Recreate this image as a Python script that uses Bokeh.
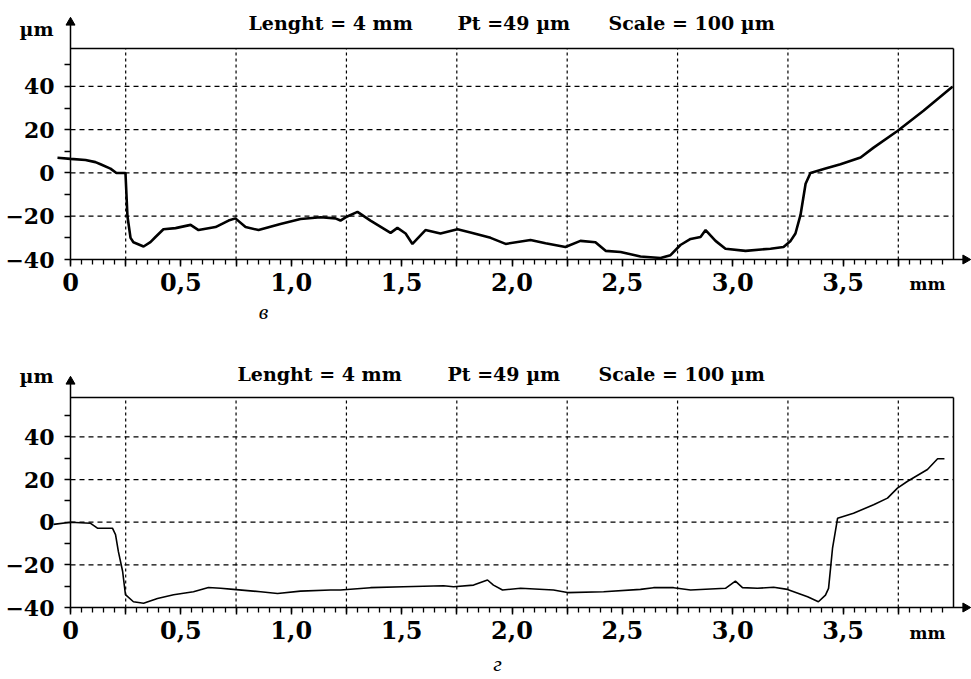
import math
from bokeh.plotting import figure
from bokeh.layouts import column
from bokeh.models import FixedTicker, Range1d, LinearAxis
from bokeh.core.properties import value
from bokeh.embed import file_html
from bokeh.resources import INLINE

# ---- data ----
top_x = [-0.059, 0.000, 0.068, 0.113, 0.136, 0.181, 0.208, 0.249, 0.258, 0.272, 0.285, 0.331, 0.362,
         0.385, 0.421, 0.476, 0.544, 0.580, 0.657, 0.716, 0.747, 0.793, 0.852, 0.951, 1.042,
         1.133, 1.200, 1.223, 1.246, 1.300, 1.359, 1.450, 1.481, 1.518, 1.549, 1.608, 1.676,
         1.753, 1.812, 1.903, 1.971, 2.084, 2.152, 2.242, 2.310, 2.378, 2.424, 2.492, 2.582,
         2.673, 2.718, 2.763, 2.809, 2.854, 2.877, 2.922, 2.967, 3.058, 3.171, 3.230, 3.262,
         3.284, 3.307, 3.330, 3.352, 3.420, 3.488, 3.579, 3.638, 3.746, 3.864, 3.995]
top_y = [7.0, 6.5, 6.0, 5.0, 4.0, 2.0, 0.0, 0.0, -20.0, -30.0, -32.0, -34.0, -32.0,
         -29.6, -26.0, -25.5, -24.0, -26.4, -25.0, -22.0, -21.0, -25.0, -26.4, -23.6, -21.3,
         -20.5, -21.0, -22.0, -20.5, -18.0, -22.0, -27.7, -25.4, -28.0, -32.8, -26.4, -28.0,
         -26.0, -27.5, -30.0, -32.8, -31.0, -32.5, -34.2, -31.4, -32.0, -36.0, -36.5, -38.6,
         -39.3, -38.0, -33.3, -30.5, -29.6, -26.4, -31.4, -35.0, -36.0, -35.0, -34.2, -31.4,
         -28.0, -19.4, -5.0, 0.0, 2.0, 4.0, 7.1, 11.7, 19.4, 28.7, 39.8]

bot_x = [-0.077, 0.000, 0.091, 0.122, 0.190, 0.204, 0.217, 0.236, 0.249, 0.285, 0.331, 0.394, 0.467,
         0.557, 0.625, 0.680, 0.738, 0.861, 0.938, 1.042, 1.178, 1.223, 1.359, 1.508, 1.690,
         1.735, 1.826, 1.889, 1.916, 1.957, 2.039, 2.188, 2.251, 2.415, 2.582, 2.641, 2.732,
         2.809, 2.967, 3.012, 3.044, 3.112, 3.185, 3.248, 3.339, 3.388, 3.420, 3.434, 3.452,
         3.475, 3.547, 3.638, 3.701, 3.746, 3.792, 3.882, 3.928, 3.959]
bot_y = [-1.0, 0.0, -0.5, -2.8, -2.8, -5.8, -13.8, -23.0, -34.0, -37.3, -38.0, -35.8, -34.0,
         -32.6, -30.6, -31.0, -31.5, -32.6, -33.4, -32.3, -31.8, -31.8, -30.7, -30.3, -29.8,
         -30.3, -29.5, -27.1, -29.5, -31.8, -31.0, -31.8, -33.0, -32.6, -31.5, -30.7, -30.7,
         -31.8, -31.0, -27.6, -30.7, -31.0, -30.5, -31.5, -35.0, -37.3, -34.2, -31.0, -12.2,
         1.9, 4.2, 8.2, 11.3, 16.0, 19.2, 24.7, 29.8, 29.8]

x_label_ticks = [0, 0.5, 1.0, 1.5, 2.0, 2.5, 3.0, 3.5]
x_label_texts = ["0", "0,5", "1,0", "1,5", "2,0", "2,5", "3,0", "3,5"]
x_grid_ticks = [0.25, 0.75, 1.25, 1.75, 2.25, 2.75, 3.25, 3.75]
x_minor_ticks = [round(0.05 * i, 2) for i in range(0, 80)]
y_major_ticks = [-40, -20, 0, 20, 40]
y_minor_ticks = [-30, -10, 10, 30, 50]
y_grid_ticks = [-20, 0, 20, 40]
header_texts = ["Lenght = 4 mm", "Pt =49 \u00b5m", "Scale = 100 \u00b5m"]
captions = ["\u0432", "\u0433"]
X_MIN, X_MAX, Y_MIN = 0.0, 4.0, -40.0

FONT = "DejaVu Serif"
W = 971
FRAME_L, FRAME_R = 70, 953


def make_panel(height, f_top, f_bottom, ymax, xs, ys, lw, caption, cap_px,
               header_px, header_py, unit_py, tip_py, mm_py):
    ppx = (FRAME_R - FRAME_L) / (X_MAX - X_MIN)
    ppy = (f_bottom - f_top) / (ymax - Y_MIN)
    xd = lambda px: X_MIN + (px - FRAME_L) / ppx
    yd = lambda py: Y_MIN + (f_bottom - py) / ppy

    p = figure(width=W, height=height, output_backend="svg", toolbar_location=None,
               x_range=Range1d(xd(0), xd(W)), y_range=Range1d(yd(height), yd(0)),
               x_axis_type=None, y_axis_type=None,
               min_border_left=0, min_border_right=0, min_border_top=0, min_border_bottom=0)
    p.background_fill_color = "white"
    p.border_fill_color = "white"
    p.outline_line_color = None

    # grid lines (dashed)
    n = len(x_grid_ticks)
    p.segment(x0=x_grid_ticks, y0=[Y_MIN] * n, x1=x_grid_ticks, y1=[ymax] * n,
              line_color="black", line_width=1.2, line_dash="3 3")
    m = len(y_grid_ticks)
    p.segment(x0=[X_MIN] * m, y0=y_grid_ticks, x1=[X_MAX] * m, y1=y_grid_ticks,
              line_color="black", line_width=1.2, line_dash="5 4")
    # frame top and right borders
    p.segment(x0=[X_MIN, X_MAX], y0=[ymax, Y_MIN], x1=[X_MAX, X_MAX], y1=[ymax, ymax],
              line_color="black", line_width=1.5)

    # x axis
    major = sorted(set(x_label_ticks + x_grid_ticks))
    overrides = {t: "" for t in x_grid_ticks}
    for t, s in zip(x_label_ticks, x_label_texts):
        overrides[t] = s
    xax = LinearAxis(fixed_location=Y_MIN, bounds=(X_MIN, xd(964)),
                     ticker=FixedTicker(ticks=major, minor_ticks=x_minor_ticks),
                     major_label_overrides=overrides,
                     major_tick_out=7, major_tick_in=0, minor_tick_out=5, minor_tick_in=0,
                     major_label_standoff=6, major_label_text_font=FONT,
                     major_label_text_font_style="bold", major_label_text_font_size="24px",
                     major_label_text_color="black", axis_line_width=1.5,
                     major_tick_line_width=1.5, minor_tick_line_width=1.3)
    p.add_layout(xax, "below")

    # y axis
    yax = LinearAxis(fixed_location=X_MIN, bounds=(Y_MIN, yd(tip_py + 4)),
                     ticker=FixedTicker(ticks=y_major_ticks, minor_ticks=y_minor_ticks),
                     major_tick_out=6, major_tick_in=0, minor_tick_out=6, minor_tick_in=0,
                     major_label_standoff=10, major_label_text_font=FONT,
                     major_label_text_font_style="bold", major_label_text_font_size="22px",
                     major_label_text_color="black", axis_line_width=1.5,
                     major_tick_line_width=1.5, minor_tick_line_width=1.5)
    p.add_layout(yax, "left")

    # profile
    p.line(xs, ys, line_color="black", line_width=lw)

    # arrow heads
    p.scatter(x=[X_MIN], y=[yd(tip_py + 4)], marker="triangle", size=9,
              fill_color="black", line_color="black")
    p.scatter(x=[xd(965)], y=[Y_MIN], marker="triangle", size=9, angle=-math.pi / 2,
              fill_color="black", line_color="black")

    # texts
    p.text(x=[xd(v) for v in header_px], y=[yd(header_py)] * len(header_px), text=header_texts,
           text_font=value(FONT), text_font_style="bold", text_font_size="19px",
           text_align="left", text_baseline="middle", text_color="black")
    p.text(x=[xd(36)], y=[yd(unit_py)], text=["\u00b5m"], text_font=value(FONT),
           text_font_style="bold", text_font_size="19px",
           text_align="center", text_baseline="middle", text_color="black")
    p.text(x=[xd(927)], y=[yd(mm_py)], text=["mm"], text_font=value(FONT),
           text_font_style="bold", text_font_size="17px",
           text_align="center", text_baseline="middle", text_color="black")
    p.text(x=[xd(cap_px[0])], y=[yd(cap_px[1])], text=[caption],
           text_font=value("Liberation Serif"), text_font_style="italic", text_font_size="22px",
           text_align="center", text_baseline="middle", text_color="black")
    return p


p1 = make_panel(340, 48, 259, 57.5, top_x, top_y, 2.6, captions[0], (263, 311),
                [248, 457, 608], 22, 28, 18, 283)
p2 = make_panel(339, 57, 267, 58.5, bot_x, bot_y, 1.6, captions[1], (497, 323),
                [237, 447, 598], 33, 35, 37, 292)

layout = column(p1, p2, spacing=0)
open("out.html", "w").write(file_html(layout, INLINE))
